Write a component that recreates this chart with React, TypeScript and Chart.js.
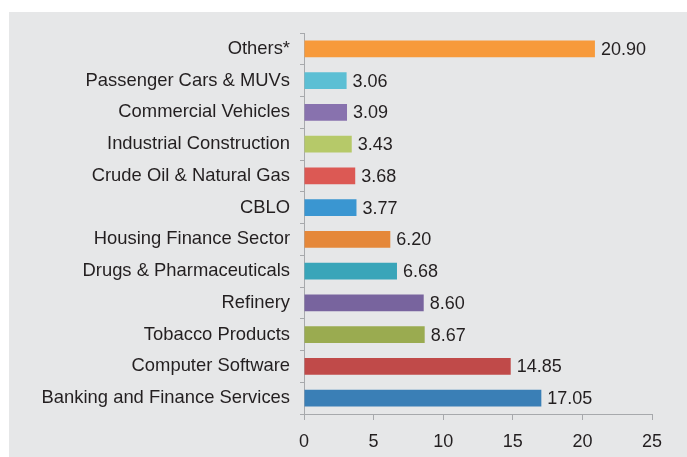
import React, { useEffect, useRef } from "react";
import { Chart, registerables } from "chart.js";

Chart.register(...registerables);

const categories = [
  "Others*",
  "Passenger Cars & MUVs",
  "Commercial Vehicles",
  "Industrial Construction",
  "Crude Oil & Natural Gas",
  "CBLO",
  "Housing Finance Sector",
  "Drugs & Pharmaceuticals",
  "Refinery",
  "Tobacco Products",
  "Computer Software",
  "Banking and Finance Services",
];

const values = [20.9, 3.06, 3.09, 3.43, 3.68, 3.77, 6.2, 6.68, 8.6, 8.67, 14.85, 17.05];

const barColors = [
  "#f79a3b",
  "#5cbfd4",
  "#8872ae",
  "#b6c969",
  "#dc5954",
  "#3a96d1",
  "#e5883a",
  "#39a5b9",
  "#78649e",
  "#9aab50",
  "#c04a49",
  "#3a7fb6",
];

const xTicks = [0, 5, 10, 15, 20, 25];

const FONT = "'Liberation Sans', Arial, sans-serif";

const valueLabels = {
  id: "valueLabels",
  afterDatasetsDraw(chart: any) {
    const ctx = chart.ctx;
    const meta = chart.getDatasetMeta(0);
    ctx.save();
    ctx.font = `18px ${FONT}`;
    ctx.fillStyle = "#231f20";
    ctx.textAlign = "left";
    ctx.textBaseline = "middle";
    meta.data.forEach((bar: any, i: number) => {
      ctx.fillText(values[i].toFixed(2), bar.x + 6, bar.y + 1);
    });
    ctx.restore();
  },
};

export default function App() {
  const ref = useRef<HTMLCanvasElement>(null);
  useEffect(() => {
    document.body.style.margin = "0";
    const chart = new Chart(ref.current!, {
      type: "bar",
      data: {
        labels: categories,
        datasets: [
          {
            data: values,
            backgroundColor: barColors,
            barPercentage: 0.53,
            categoryPercentage: 1,
          },
        ],
      },
      plugins: [valueLabels],
      options: {
        indexAxis: "y",
        animation: false,
        responsive: false,
        maintainAspectRatio: false,
        layout: { padding: { top: 18, right: 35, left: 0, bottom: 0 } },
        plugins: { legend: { display: false }, tooltip: { enabled: false } },
        scales: {
          x: {
            min: 0,
            max: 25,
            afterBuildTicks: (scale: any) => {
              scale.ticks = xTicks.map((v) => ({ value: v }));
            },
            afterFit: (scale: any) => {
              scale.height = 43;
            },
            grid: {
              drawOnChartArea: false,
              drawTicks: true,
              tickLength: 6,
              color: "#a7a9ac",
            },
            border: { color: "#a7a9ac", width: 1 },
            ticks: {
              color: "#231f20",
              font: { family: FONT, size: 18 },
              padding: 11,
            },
          },
          y: {
            afterFit: (scale: any) => {
              scale.width = 295;
            },
            grid: {
              drawOnChartArea: false,
              drawTicks: true,
              tickLength: 4,
              color: "#a7a9ac",
              offset: true,
            },
            border: { color: "#a7a9ac", width: 1 },
            ticks: {
              color: "#231f20",
              font: { family: FONT, size: 18.4 },
              padding: 10,
              autoSkip: false,
            },
          },
        },
      },
    });
    return () => chart.destroy();
  }, []);
  return (
    <div style={{ position: "relative", width: 687, height: 457, background: "#fff", overflow: "hidden" }}>
      <div
        style={{
          position: "absolute",
          left: 9,
          top: 12,
          width: 678,
          height: 445,
          background: "#e6e7e8",
        }}
      >
        <canvas ref={ref} width={678} height={445} style={{ display: "block" }} />
      </div>
    </div>
  );
}
